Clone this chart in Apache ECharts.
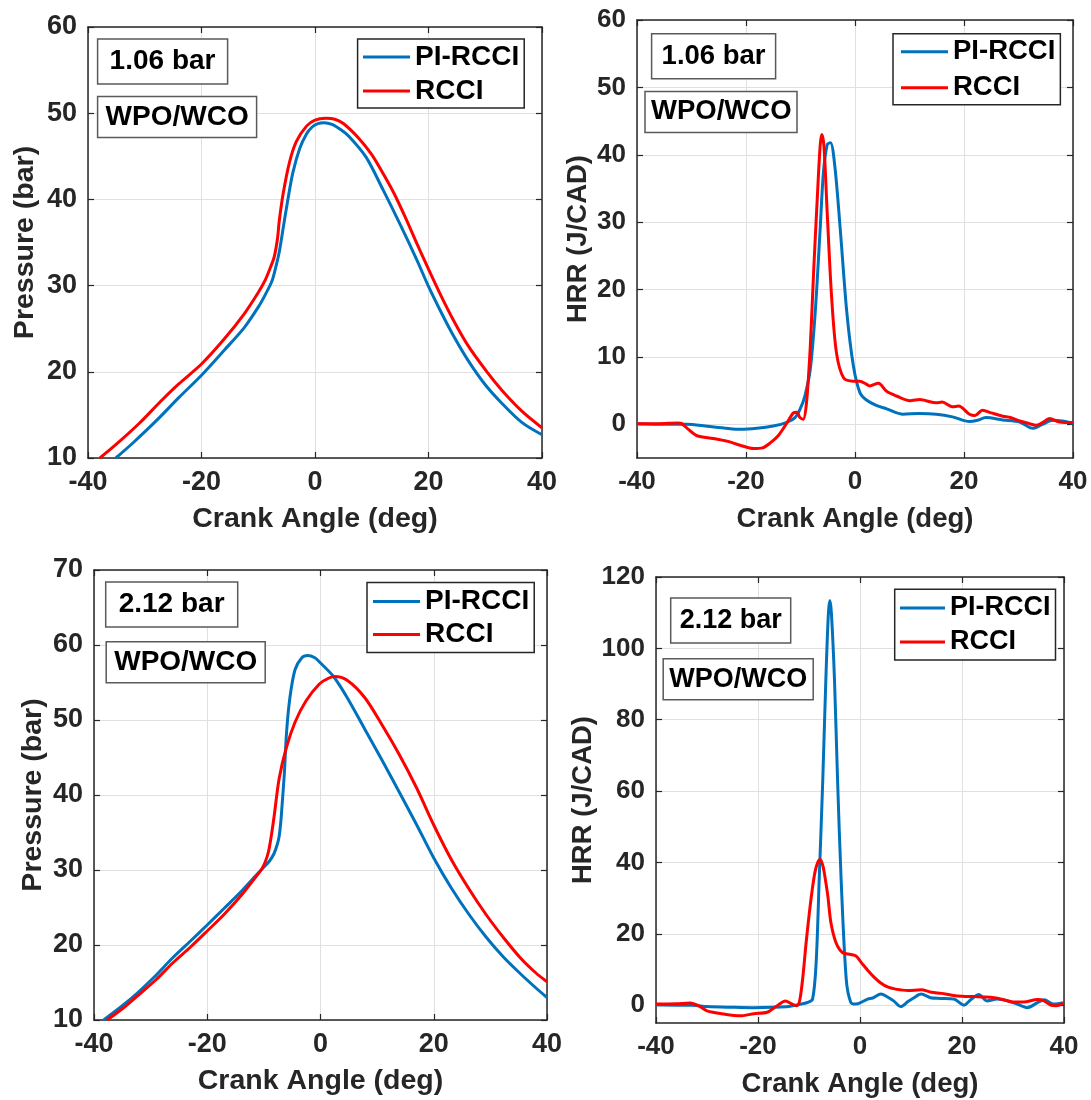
<!DOCTYPE html>
<html>
<head>
<meta charset="utf-8">
<script src="https://cdn.jsdelivr.net/npm/echarts@6/dist/echarts.min.js"></script>
<style>
html,body{margin:0;padding:0;background:#fff;}
#chart{width:1091px;height:1100px;}
</style>
</head>
<body>
<div id="chart"></div>
<script>
// ---------------- DATA ----------------
const seriesNames = ['PI-RCCI', 'RCCI'];
const xTicks = [-40, -20, 0, 20, 40];
const pressureTicks1 = [10, 20, 30, 40, 50, 60];
const hrrTicks1 = [0, 10, 20, 30, 40, 50, 60];
const pressureTicks2 = [10, 20, 30, 40, 50, 60, 70];
const hrrTicks2 = [0, 20, 40, 60, 80, 100, 120];
const loadLabels = ['1.06 bar', '2.12 bar'];
const fuelLabel = 'WPO/WCO';
const xName = 'Crank Angle (deg)';
const pName = 'Pressure (bar)';
const hName = 'HRR (J/CAD)';

// Panel 1: pressure, 1.06 bar [crank angle, bar]
const p1Blue = [[-35.1,10],[-32,11.8],[-28,14.3],[-24,17],[-20,19.6],[-16,22.5],[-12.5,25.1],[-10,27.5],[-8.8,28.9],[-7.6,30.5],[-7,31.9],[-6.3,33.9],[-5.6,36.7],[-4.8,39.9],[-3.9,43.1],[-2.7,45.9],[-1.5,47.6],[-0.5,48.4],[0.5,48.8],[1.6,48.9],[3,48.7],[4.5,48.1],[6,47.3],[9,44.9],[12,41.1],[15,37.1],[18,32.9],[20,29.9],[22,27.2],[24.3,24.3],[27,21.3],[30,18.5],[33,16.3],[36.5,14.1],[40,12.7]];
const p1Red = [[-37.9,10],[-35,11.6],[-31,14.0],[-27,16.7],[-24,18.6],[-20,20.9],[-16,23.8],[-12.5,26.7],[-10,29.2],[-8.8,30.6],[-7.8,32.2],[-7.2,33.3],[-6.6,35.5],[-6.3,37.5],[-5.6,40.7],[-4.5,44.3],[-3.3,46.7],[-1.5,48.5],[0,49.2],[1.9,49.4],[3.5,49.3],[5,48.8],[7.7,47.1],[10,45.2],[12,43.0],[14,40.6],[16,37.8],[18,34.8],[20,31.9],[22,29.1],[24.3,26.1],[27,23.0],[30.4,19.9],[33,17.8],[36.5,15.4],[40,13.5]];

// Panel 2: HRR, 1.06 bar [crank angle, J/CAD]
const p2Blue = [[-40,0.1],[-35,0],[-31,0],[-27,-0.3],[-24,-0.55],[-21,-0.75],[-18,-0.6],[-15,-0.25],[-12.5,0.3],[-11,1.0],[-10.1,2.2],[-9.2,4.2],[-8.2,8.2],[-7.3,16.6],[-6.4,28.9],[-5.8,37.3],[-5.1,41.5],[-4.5,41.8],[-3.7,38.3],[-2.7,28.9],[-1.5,16.6],[-0.3,8.7],[0.9,4.7],[2.1,3.6],[3.9,2.8],[5.8,2.3],[8.8,1.5],[11.8,1.6],[14.9,1.5],[17.9,1.1],[21,0.4],[22.5,0.6],[24,1.0],[27.1,0.65],[30.2,0.35],[32.6,-0.6],[34.4,0],[36.3,0.6],[38,0.5],[40,0.15]];
const p2Red = [[-40,0.1],[-36,0.1],[-32.5,0.2],[-31.8,0.1],[-30.5,-0.8],[-29,-1.7],[-26,-2.1],[-23.5,-2.5],[-21.1,-3.1],[-18.6,-3.6],[-17,-3.5],[-15.6,-2.8],[-14.1,-1.7],[-12.5,0.2],[-11.3,1.7],[-10.7,1.8],[-10.1,1.0],[-9.5,0.75],[-8.9,3.2],[-8.2,11.6],[-7.6,22.5],[-6.9,33.9],[-6.4,41.3],[-6.1,43.0],[-5.7,41.3],[-5.1,31.4],[-4.3,19.0],[-3.4,10.6],[-2.1,6.9],[-0.3,6.4],[0.9,6.4],[2,6.0],[2.7,5.7],[4.3,6.1],[5.8,4.9],[7.6,4.2],[10.1,3.5],[11.9,3.7],[13,3.5],[14.9,3.2],[16,3.3],[17.9,2.6],[19,2.7],[21,1.5],[22,1.3],[23.4,2.1],[25,1.7],[27.1,1.2],[28.5,1.0],[30.2,0.5],[32,0.1],[33.2,-0.15],[34.3,0.2],[35.7,0.85],[37.5,0.35],[40,0.25]];

// Panel 3: pressure, 2.12 bar
const p3Blue = [[-38.3,10],[-35,11.9],[-32.2,13.7],[-29,16.0],[-26.1,18.3],[-23,20.5],[-20.1,22.6],[-17,24.9],[-13.8,27.3],[-11,29.6],[-10.1,30.3],[-9,31.2],[-8.2,32.2],[-7.6,33.5],[-7.3,34.5],[-7,36.5],[-6.8,38.5],[-6.4,42.7],[-6,48.3],[-5.4,53.0],[-4.5,56.7],[-3.3,58.3],[-2.3,58.6],[-1,58.3],[0,57.6],[2.3,55.8],[4.7,53.0],[7.8,48.8],[10.9,44.6],[13.9,40.4],[17,36.0],[20,31.6],[23.1,27.6],[26.2,24.1],[29.2,21.1],[32.3,18.4],[35.4,16.1],[38,14.3],[40,13.0]];
const p3Red = [[-37.7,10],[-35,11.5],[-32.2,13.3],[-29,15.4],[-26.1,17.6],[-23,19.7],[-20.1,21.8],[-17,24.1],[-13.8,26.8],[-11,29.5],[-10.4,30.1],[-9.8,31.0],[-9.2,32.4],[-8.7,34.5],[-8.2,37.1],[-7.3,42.2],[-6,46.4],[-4.5,49.7],[-2.6,52.5],[-0.2,54.8],[1.5,55.6],[2.5,55.8],[4.7,55.3],[7.8,53.0],[10.9,49.3],[13.9,45.4],[17,40.9],[20,36.0],[23.1,31.4],[26.2,27.5],[29.2,24.1],[32.3,21.0],[35.4,18.2],[38,16.3],[40,15.1]];

// Panel 4: HRR, 2.12 bar
const p4Blue = [[-40,0.1],[-36,0],[-33,0],[-30,-0.4],[-25,-0.6],[-21,-0.7],[-17,-0.6],[-14,-0.4],[-12,0.2],[-10.3,0.75],[-9.3,1.7],[-8.6,11.9],[-8.0,35.2],[-7.3,63.1],[-6.7,91.1],[-6.2,109.7],[-5.9,113.4],[-5.6,109.7],[-5.0,91.1],[-4.4,63.1],[-3.7,35.2],[-2.7,7.3],[-1.8,0.75],[-0.8,0.3],[0.1,0.7],[1.5,1.7],[2.5,2.0],[4.1,3.1],[5.4,2.3],[6.6,1.2],[8.0,-0.4],[9.4,1.0],[10.5,2.0],[12,3.1],[13.8,2.1],[15.8,1.9],[18.4,1.7],[20.4,0.0],[21.7,1.5],[23.3,3.0],[24.9,1.2],[26.9,1.7],[28.9,1.2],[30.8,0.3],[32.8,-0.7],[34.8,0.7],[36.1,1.5],[38,0.3],[40,0.7]];
const p4Red = [[-40,0.3],[-36,0.4],[-33.3,0.6],[-31.5,-0.3],[-30,-1.6],[-26.7,-2.5],[-23.5,-3.0],[-20.8,-2.4],[-18.2,-2.0],[-16.5,-0.4],[-14.6,1.2],[-13.5,0.4],[-12.4,-0.2],[-11.8,1.5],[-11.2,8.0],[-10.6,17.0],[-10.0,25.0],[-9.4,32.0],[-8.8,37.5],[-8.2,40.3],[-7.8,40.8],[-7.3,39.2],[-7.0,37.1],[-6.3,30.5],[-5.7,23.1],[-4.7,17.5],[-3.4,14.7],[-1.8,14.2],[-0.8,13.8],[0.5,11.5],[1.5,9.8],[2.8,7.8],[4.0,6.3],[5.4,5.1],[7,4.5],[9.4,4.1],[12,4.3],[14,3.6],[16,3.3],[18,2.8],[20,2.5],[22.3,2.4],[24,2.3],[25.6,2.2],[28,1.6],[30,0.9],[32.1,0.9],[34.8,1.6],[36,1.3],[37.4,0],[38.5,-0.2],[40,0.6]];

// ---------------- LAYOUT / STYLE ----------------
const FONT = '"Liberation Sans", Arial, Helvetica, sans-serif';
const AX = '#262626';
const BLUE = '#0072BD';
const RED = '#FF0000';

const panels = [
  {grid:{left:88,top:27,width:454,height:431}, yMin:10, yMax:60, yTicks:pressureTicks1, yName:pName, yGap:48, tickFs:27, nameFs:28.5,
   blue:p1Blue, red:p1Red,
   boxes:[{text:loadLabels[0], left:97.6, top:39, pad:[8,12]},{text:fuelLabel, left:97.6, top:96.5, pad:[6,8]}], boxFs:28,
   legend:{left:357.6, top:39, pad:[4,5,3,5.4], gap:6, iw:47, fs:28}},
  {grid:{left:637,top:20,width:436,height:438}, yMin:-5, yMax:60, yTicks:hrrTicks1, yName:hName, yGap:45, tickFs:26, nameFs:27.5,
   blue:p2Blue, red:p2Red,
   boxes:[{text:loadLabels[0], left:651.6, top:33.8, pad:[8,10]},{text:fuelLabel, left:645, top:91.4, pad:[6,6]}], boxFs:27.5,
   legend:{left:893, top:33.8, pad:[4,5,3,8], gap:8, iw:47, fs:27.5}},
  {grid:{left:94,top:570,width:453,height:450}, yMin:10, yMax:70, yTicks:pressureTicks2, yName:pName, yGap:46, tickFs:27, nameFs:28.5,
   blue:p3Blue, red:p3Red,
   boxes:[{text:loadLabels[1], left:105.7, top:581.5, pad:[8.5,13]},{text:fuelLabel, left:105.7, top:641.7, pad:[6,8.5]}], boxFs:28,
   legend:{left:367, top:582.6, pad:[5,5,4,6], gap:5, iw:47, fs:28}},
  {grid:{left:656,top:577,width:408,height:446}, yMin:-5, yMax:120, yTicks:hrrTicks2, yName:hName, yGap:59, tickFs:26, nameFs:27.5,
   blue:p4Blue, red:p4Red,
   boxes:[{text:loadLabels[1], left:670.2, top:597.4, pad:[8.5,9.5]},{text:fuelLabel, left:663.2, top:658.7, pad:[6,6]}], boxFs:27,
   legend:{left:894.7, top:589.3, pad:[4.6,5,4,5.3], gap:6, iw:45, fs:27}}
];

const option = {
  backgroundColor:'#ffffff',
  animation:false,
  grid:[], xAxis:[], yAxis:[], series:[], title:[], legend:[]
};

panels.forEach((p, i) => {
  option.grid.push(Object.assign({containLabel:false, show:false}, p.grid));
  const labelStyle = {fontSize:p.tickFs, fontWeight:'bold', color:AX, fontFamily:FONT};
  const nameStyle = {fontSize:p.nameFs, fontWeight:'bold', color:AX, fontFamily:FONT};
  const lineSt = {color:AX, width:1.5};
  const tickSt = {inside:true, length:6, lineStyle:{color:AX, width:1.2}};
  option.xAxis.push({
    type:'value', gridIndex:i, position:'bottom', min:xTicks[0], max:xTicks[xTicks.length-1], interval:20,
    axisLine:{show:true, onZero:false, lineStyle:lineSt},
    axisTick:Object.assign({show:true}, tickSt),
    axisLabel:Object.assign({show:true, margin:11, showMinLabel:true, showMaxLabel:true}, labelStyle),
    splitLine:{show:true, lineStyle:{color:'#e0e0e0', width:1}},
    name:xName, nameLocation:'middle', nameGap:47, nameTextStyle:nameStyle
  });
  option.xAxis.push({
    type:'value', gridIndex:i, position:'top', min:xTicks[0], max:xTicks[xTicks.length-1], interval:20,
    axisLine:{show:true, onZero:false, lineStyle:lineSt},
    axisTick:Object.assign({show:true}, tickSt),
    axisLabel:{show:false}, splitLine:{show:false}
  });
  option.yAxis.push({
    type:'value', gridIndex:i, position:'left', min:p.yMin, max:p.yMax,
    axisLine:{show:true, onZero:false, lineStyle:lineSt},
    axisTick:Object.assign({show:true, customValues:p.yTicks}, tickSt),
    axisLabel:Object.assign({show:true, margin:11, customValues:p.yTicks}, labelStyle),
    splitLine:{show:true, lineStyle:{color:'#e0e0e0', width:1}},
    name:p.yName, nameLocation:'middle', nameGap:p.yGap, nameTextStyle:nameStyle
  });
  option.yAxis.push({
    type:'value', gridIndex:i, position:'right', min:p.yMin, max:p.yMax,
    axisLine:{show:true, onZero:false, lineStyle:lineSt},
    axisTick:Object.assign({show:true, customValues:p.yTicks}, tickSt),
    axisLabel:{show:false}, splitLine:{show:false}
  });
  const mk = (name, color, data) => ({
    type:'line', name:name, xAxisIndex:2*i, yAxisIndex:2*i, data:data,
    color:color, showSymbol:false, symbol:'none', smooth:0.3,
    lineStyle:{color:color, width:3}, clip:true, z:3
  });
  option.series.push(mk(seriesNames[0], BLUE, p.blue));
  option.series.push(mk(seriesNames[1], RED, p.red));
  p.boxes.forEach(b => {
    option.title.push({
      text:b.text, left:b.left, top:b.top, padding:b.pad,
      borderColor:'#5a5a5a', borderWidth:1.5, backgroundColor:'#ffffff',
      textStyle:{fontSize:p.boxFs, fontWeight:'bold', color:'#000', fontFamily:FONT, lineHeight:29}
    });
  });
  const L = p.legend;
  option.legend.push({
    left:L.left, top:L.top, orient:'vertical', data:seriesNames, icon:'rect',
    itemWidth:L.iw, itemHeight:3, itemGap:L.gap, padding:L.pad, selectedMode:false,
    borderColor:AX, borderWidth:1.5, backgroundColor:'#ffffff',
    textStyle:{fontSize:L.fs, fontWeight:'bold', color:'#000', fontFamily:FONT, lineHeight:28}
  });
});

const chart = echarts.init(document.getElementById('chart'), null, {renderer:'canvas'});
chart.setOption(option);
</script>
</body>
</html>
